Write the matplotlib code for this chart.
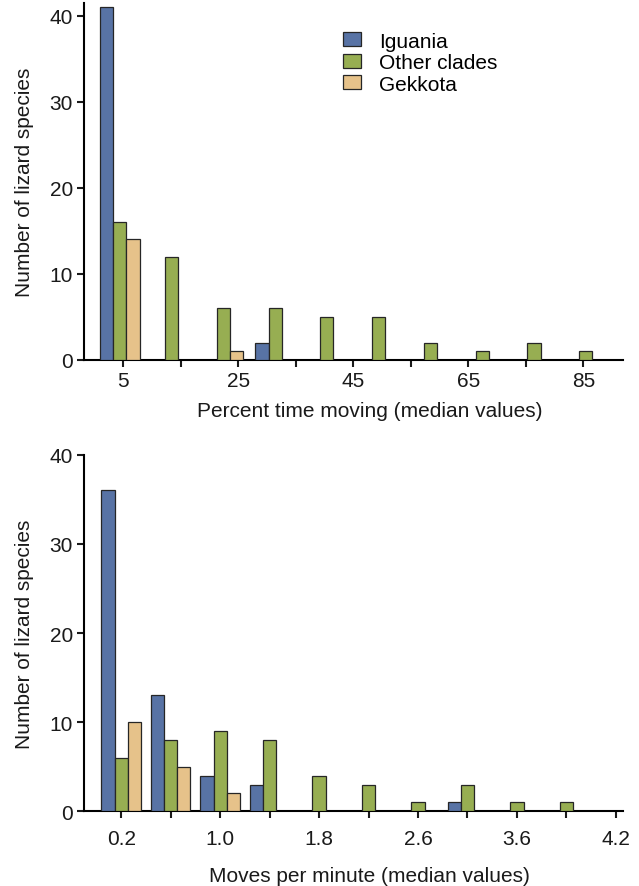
import numpy as np
import matplotlib
matplotlib.use("Agg")
import matplotlib.pyplot as plt

plt.rcParams['font.family'] = ['Liberation Sans', 'DejaVu Sans']
plt.rcParams['font.size'] = 15

clades = ['Iguania', 'Other clades', 'Gekkota']
kolory = ['#5873a5', '#97ae52', '#e6c28a']

# gorny wykres: procent czasu w ruchu
ticks_gora = [5, 15, 25, 35, 45, 55, 65, 75, 85]
etykiety_gora = ['5', '', '25', '', '45', '', '65', '', '85']
iguania_gora = [41, 0, 0, 2, 0, 0, 0, 0, 0, 0]
other_gora = [16, 12, 6, 6, 5, 5, 2, 1, 2, 1]
gekkota_gora = [14, 0, 1, 0, 0, 0, 0, 0, 0, 0]

# dolny wykres: ruchy na minute
etykiety_dol = ['0.2', '', '1.0', '', '1.8', '', '2.6', '', '3.6', '', '4.2']
iguania_dol = [36, 13, 4, 3, 0, 0, 0, 1, 0, 0]
other_dol = [6, 8, 9, 8, 4, 3, 1, 3, 1, 1]
gekkota_dol = [10, 5, 2, 0, 0, 0, 0, 0, 0, 0]


def rysuj_slupki(ax, srodki, szerokosc, serie):
    for k, (wartosci, kolor, nazwa) in enumerate(zip(serie, kolory, clades)):
        wartosci = np.array(wartosci, dtype=float)
        x = srodki + (k - 1) * szerokosc
        maska = wartosci > 0
        ax.bar(x[maska], wartosci[maska], width=szerokosc, color=kolor,
               edgecolor='#262626', linewidth=0.9, label=nazwa, zorder=3)


def styl_osi(ax):
    for s in ['top', 'right']:
        ax.spines[s].set_visible(False)
    for s in ['left', 'bottom']:
        ax.spines[s].set_linewidth(1.5)
    ax.tick_params(direction='out', length=5, width=1.5, colors='#1a1a1a',
                   labelsize=15, pad=3)
    ax.set_yticks([0, 10, 20, 30, 40])
    ax.set_ylabel('Number of lizard species', fontsize=15, color='#1a1a1a',
                  labelpad=11)


fig = plt.figure(figsize=(6.39, 8.87), dpi=100)

ax1 = fig.add_axes([0.1315, 0.5933, 0.8435, 0.4021])
srodki1 = 4.4 + 9.0 * np.arange(len(other_gora))
rysuj_slupki(ax1, srodki1, 2.3, [iguania_gora, other_gora, gekkota_gora])
styl_osi(ax1)
ax1.set_xlim(-1.83, 91.9)
ax1.set_ylim(0, 41.5)
ax1.set_xticks(ticks_gora)
ax1.set_xticklabels(etykiety_gora)
ax1.set_xlabel('Percent time moving (median values)', fontsize=15,
               color='#1a1a1a', labelpad=8)
ax1.xaxis.label.set_x(0.53)
ax1.legend(loc='upper left', bbox_to_anchor=(0.48, 0.92), frameon=False,
           fontsize=15, handlelength=0.87, handleheight=0.65,
           handletextpad=0.87, labelspacing=0.12, borderaxespad=0, borderpad=0)

ax2 = fig.add_axes([0.1315, 0.0842, 0.844, 0.402])
srodki2 = np.arange(len(other_dol))
rysuj_slupki(ax2, srodki2, 0.265, [iguania_dol, other_dol, gekkota_dol])
styl_osi(ax2)
ax2.tick_params(axis='x', pad=8)
ax2.set_xlim(-0.75, 10.15)
ax2.set_ylim(0, 40)
ax2.set_xticks(np.arange(len(etykiety_dol)))
ax2.set_xticklabels(etykiety_dol)
ax2.set_xlabel('Moves per minute (median values)', fontsize=15,
               color='#1a1a1a', labelpad=13)
ax2.xaxis.label.set_x(0.53)

fig.savefig('out.png', dpi=100)
